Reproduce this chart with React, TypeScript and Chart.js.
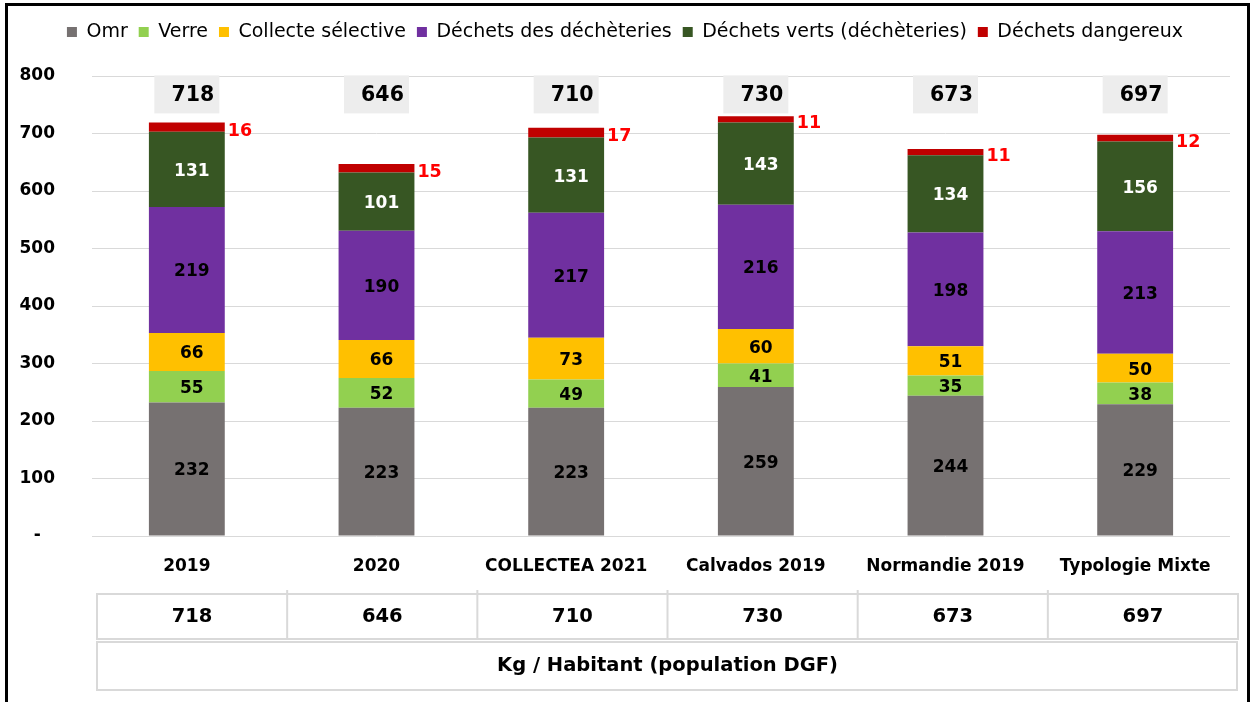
import React, { useEffect, useRef } from 'react';
import { Chart, registerables } from 'chart.js';

Chart.register(...registerables);

const categories = ['2019', '2020', 'COLLECTEA 2021', 'Calvados 2019', 'Normandie 2019', 'Typologie Mixte'];
const seriesNames = [
  'Omr',
  'Verre',
  'Collecte sélective',
  'Déchets des déchèteries',
  'Déchets verts (déchèteries)',
  'Déchets dangereux',
];
const omr = [232, 223, 223, 259, 244, 229];
const verre = [55, 52, 49, 41, 35, 38];
const collecte = [66, 66, 73, 60, 51, 50];
const decheteries = [219, 190, 217, 216, 198, 213];
const vertsDecheteries = [131, 101, 131, 143, 134, 156];
const dangereux = [16, 15, 17, 11, 11, 12];
const totals = [718, 646, 710, 730, 673, 697];
const tableTitle = 'Kg / Habitant (population DGF)';

const FONT = "'DejaVu Sans', 'Liberation Sans', sans-serif";
const COLORS = ['#767171', '#92D050', '#FFC000', '#7030A0', '#375623', '#C00000'];
const LABEL_COLORS = ['#000000', '#000000', '#000000', '#000000', '#FFFFFF'];
const TOTAL_LABEL_VALUE = 768;
const LEGEND_EXTRA = 24.5;

export default function App() {
  const ref = useRef<HTMLCanvasElement | null>(null);

  useEffect(() => {
    document.body.style.margin = '0';
    const canvas = ref.current;
    if (!canvas) return;
    const series = [omr, verre, collecte, decheteries, vertsDecheteries, dangereux];

    const extras = {
      id: 'extras',
      afterInit(chart: any) {
        const lg = chart.legend;
        if (lg && !lg._patchedFit) {
          const orig = lg.fit.bind(lg);
          lg.fit = function () {
            orig();
            this.height += LEGEND_EXTRA;
          };
          lg._patchedFit = true;
        }
      },
      beforeDraw(chart: any) {
        const ctx = chart.ctx;
        ctx.save();
        ctx.fillStyle = '#FFFFFF';
        ctx.fillRect(0, 0, chart.width, chart.height);
        ctx.fillStyle = '#000000';
        ctx.fillRect(5, 3, 3, chart.height);
        ctx.fillRect(5, 3, 1245, 3);
        ctx.fillRect(1247, 3, 3, chart.height);
        ctx.restore();
      },
      afterDatasetsDraw(chart: any) {
        const ctx = chart.ctx;
        ctx.save();
        ctx.textBaseline = 'middle';
        // segment labels
        ctx.font = `bold 17px ${FONT}`;
        ctx.textAlign = 'center';
        for (let d = 0; d < 5; d++) {
          const meta = chart.getDatasetMeta(d);
          meta.data.forEach((bar: any, i: number) => {
            const p = bar.getProps(['x', 'y', 'base'], true);
            ctx.fillStyle = LABEL_COLORS[d];
            ctx.fillText(String(series[d][i]), p.x + 5, (p.y + p.base) / 2 + 2);
          });
        }
        // dangerous waste labels
        const metaD = chart.getDatasetMeta(5);
        ctx.textAlign = 'left';
        ctx.fillStyle = '#FF0000';
        ctx.font = `bold 17.5px ${FONT}`;
        metaD.data.forEach((bar: any, i: number) => {
          const p = bar.getProps(['x', 'y', 'base', 'width'], true);
          ctx.fillText(String(dangereux[i]), p.x + p.width / 2 + 3, (p.y + p.base) / 2 + 4);
        });
        // totals boxes
        const yc = chart.scales.y.getPixelForValue(TOTAL_LABEL_VALUE);
        ctx.textAlign = 'center';
        ctx.font = `bold 20.5px ${FONT}`;
        metaD.data.forEach((bar: any, i: number) => {
          const x = bar.x;
          ctx.fillStyle = '#EDEDED';
          ctx.fillRect(x - 32.5, yc - 19, 65, 38);
          ctx.fillStyle = '#000000';
          ctx.fillText(String(totals[i]), x + 6, yc + 1);
        });
        ctx.restore();
      },
      afterDraw(chart: any) {
        const ctx = chart.ctx;
        const area = chart.chartArea;
        const L = area.left + 5;
        const R = area.right + 8;
        const colW = (R - L) / categories.length;
        ctx.save();
        ctx.strokeStyle = '#D9D9D9';
        ctx.lineWidth = 2;
        ctx.strokeRect(L, 594, R - L, 45);
        for (let i = 1; i < categories.length; i++) {
          ctx.beginPath();
          ctx.moveTo(L + i * colW, 590);
          ctx.lineTo(L + i * colW, 639);
          ctx.stroke();
        }
        ctx.strokeRect(L, 642, R - L - 1, 48);
        ctx.fillStyle = '#000000';
        ctx.textAlign = 'center';
        ctx.textBaseline = 'middle';
        ctx.font = `bold 19.5px ${FONT}`;
        totals.forEach((t, i) => {
          ctx.fillText(String(t), L + (i + 0.5) * colW, 617);
        });
        ctx.fillText(tableTitle, (L + R) / 2, 666);
        ctx.restore();
      },
    };

    const chart = new Chart(canvas, {
      type: 'bar',
      data: {
        labels: categories,
        datasets: series.map((s, i) => ({
          label: seriesNames[i],
          data: s,
          backgroundColor: COLORS[i],
          borderWidth: 0,
          stack: 'total',
          categoryPercentage: 1,
          barPercentage: 0.4,
        })),
      },
      options: {
        responsive: false,
        animation: false,
        devicePixelRatio: 1,
        layout: { padding: { top: 11.5, left: 20, right: 23, bottom: 116 } },
        plugins: {
          legend: {
            position: 'top',
            labels: {
              boxWidth: 10,
              boxHeight: 10,
              padding: 11,
              color: '#000000',
              font: { family: FONT, size: 19 },
            },
          },
          tooltip: { enabled: false },
          title: { display: false },
        },
        scales: {
          x: {
            stacked: true,
            grid: { display: false, drawTicks: false },
            border: { display: false },
            ticks: {
              color: '#000000',
              padding: 20,
              font: { family: FONT, size: 17, weight: 'bold' },
            },
            afterFit: (scale: any) => {
              scale.height = 50;
            },
          },
          y: {
            stacked: true,
            min: 0,
            max: 800,
            grid: { color: '#D9D9D9', lineWidth: 1, drawTicks: false },
            border: { display: false },
            ticks: {
              stepSize: 100,
              color: '#000000',
              padding: 37,
              crossAlign: 'center',
              font: { family: FONT, size: 17, weight: 'bold' },
              callback: (v: any) => (Number(v) === 0 ? '-' : String(v)),
            },
            afterFit: (scale: any) => {
              scale.width = 72;
            },
          },
        },
      },
      plugins: [extras],
    } as any);

    return () => {
      chart.destroy();
    };
  }, []);

  return (
    <div style={{ width: 1253, height: 702, overflow: 'hidden' }}>
      <canvas ref={ref} width={1253} height={702} style={{ display: 'block', width: 1253, height: 702 }} />
    </div>
  );
}
